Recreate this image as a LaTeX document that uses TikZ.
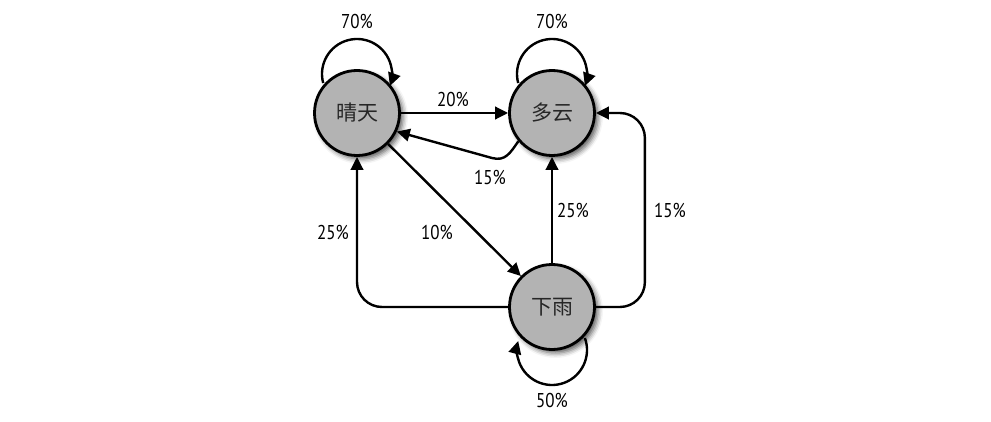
\documentclass[tikz,border=0pt]{standalone}
\usepackage{fontspec}
\setmainfont[FakeStretch=0.85]{PT Sans}
\newfontfamily\cjk{Noto Sans CJK SC}
\usetikzlibrary{arrows.meta,shadows.blur,calc}
\pgfdeclarelayer{bg}
\pgfsetlayers{bg,main}
\definecolor{stategray}{HTML}{B3B3B3}
\definecolor{textgray}{HTML}{262626}
\begin{document}
\begin{tikzpicture}[x=1pt,y=1pt,
  state/.style={circle, draw=black, line width=2.8pt, fill=stategray, minimum size=85pt, inner sep=0pt,
    font=\cjk\fontsize{21}{21}\selectfont, text=textgray,
    blur shadow={shadow xshift=3.5pt, shadow yshift=-3.5pt, shadow blur radius=5pt, shadow opacity=65}},
  conn/.style={line width=2.4pt, -{Triangle[length=13pt,width=12.5pt]}},
  lbl/.style={font=\fontsize{20}{20}\selectfont, text=black, inner sep=0pt}]
\useasboundingbox (0,0) rectangle (991,421);

\node[state] (a) at (357,308) {晴天};
\node[state] (b) at (552,308) {多云};
\node[state] (c) at (552,114) {下雨};

\coordinate (k) at (492,263);

\begin{pgfonlayer}{bg}
  % self loops
  \draw[conn] ($(a)+(0,39)+(195:35)$) arc[start angle=195, end angle=-20, radius=35];
  \draw[conn] ($(b)+(0,39)+(195:35)$) arc[start angle=195, end angle=-20, radius=35];
  \draw[conn] ($(c)+(0,-43)+(20:35)$) arc[start angle=20, end angle=-195, radius=35];
  % transitions
  \draw[conn] (a) -- (b);
  \draw[conn] (b.-140) .. controls +(-125:14) and +(-15:14) .. (k) -- (a.-25);
  \draw[conn] (a) -- (c);
  \draw[conn] (c) -- (b);
  \draw[conn, rounded corners=25pt] (c.west) -| (a.south);
  \draw[conn, rounded corners=25pt] (c.east) -- ++(49,0) |- (b.east);
\end{pgfonlayer}

\node[lbl] (l1) at (357,400) {70\%};
\node[lbl] (l2) at (552,400) {70\%};
\node[lbl] (l3) at (552,21) {50\%};
\node[lbl] (l4) at (453,322) {20\%};
\node[lbl] (l5) at (490,244) {15\%};
\node[lbl] (l6) at (437,189) {10\%};
\node[lbl] (l7) at (333,189) {25\%};
\node[lbl] (l8) at (573,211) {25\%};
\node[lbl] (l9) at (670,211) {15\%};
\end{tikzpicture}
\end{document}
